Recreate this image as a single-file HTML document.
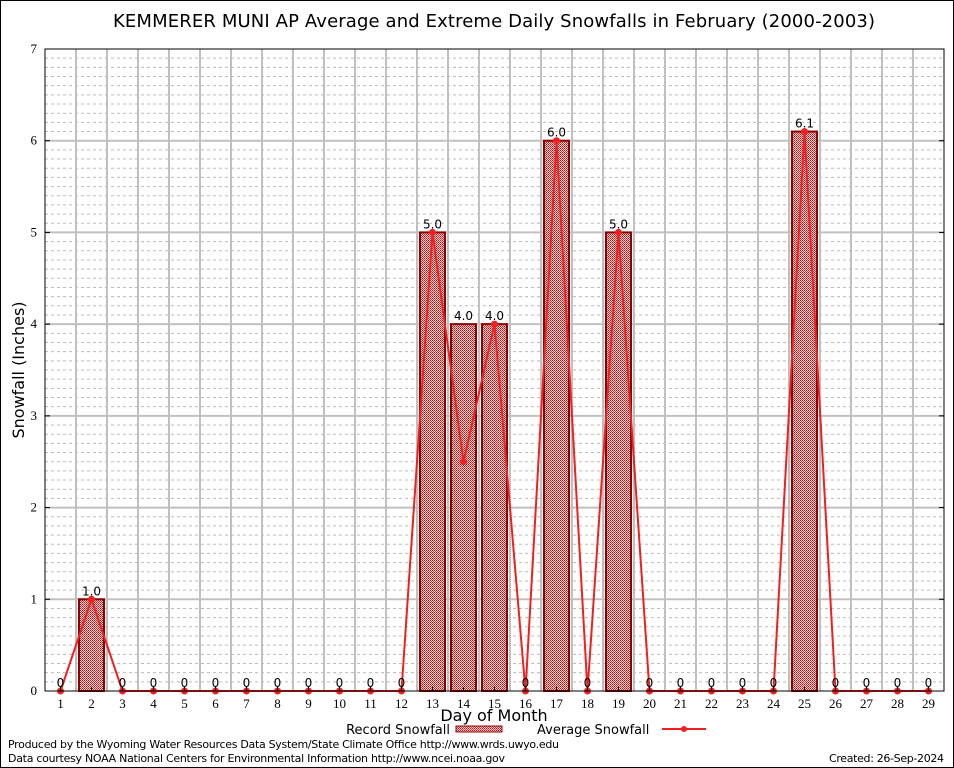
<!DOCTYPE html>
<html><head><meta charset="utf-8"><style>
body{margin:0;background:#fff}
svg{display:block}
text{font-family:"DejaVu Sans","Liberation Sans",sans-serif}
.tick{font-family:"Liberation Serif","DejaVu Serif",serif;font-size:13px}
</style></head><body>
<svg id="c" width="954" height="768" xmlns="http://www.w3.org/2000/svg">
<defs>
<pattern id="hatch" width="2" height="2" patternUnits="userSpaceOnUse">
<rect width="2" height="2" fill="#f2d0d0"/>
<rect width="1" height="1" fill="#b01818"/>
<rect x="1" y="1" width="1" height="1" fill="#c84040"/>
</pattern>
</defs>
<rect x="0.5" y="0.5" width="953" height="767" fill="#fff" stroke="#000"/>
<text x="494" y="27" text-anchor="middle" font-size="18" textLength="762">KEMMERER MUNI AP Average and Extreme Daily Snowfalls in February (2000-2003)</text>
<g id="grid"></g>
<g id="bars"></g>
<g id="line"></g>
<g id="labels"></g>
<g id="axes"></g>
<text x="24" y="370" transform="rotate(-90 24 370)" text-anchor="middle" font-size="16">Snowfall (Inches)</text>
<text x="494" y="721" text-anchor="middle" font-size="16">Day of Month</text>
<g>
<text x="450" y="734" text-anchor="end" font-size="13">Record Snowfall</text>
<rect x="456" y="726" width="46" height="6" fill="url(#hatch)" stroke="#a00000"/>
</g>
<g>
<text x="537" y="734" font-size="13">Average Snowfall</text>
<line x1="662" y1="729" x2="706" y2="729" stroke="#f02020" stroke-width="2"/>
<circle cx="684" cy="729" r="3" fill="#f02020"/>
</g>
<text x="8" y="748" font-size="11" textLength="551">Produced by the Wyoming Water Resources Data System/State Climate Office http://www.wrds.uwyo.edu</text>
<text x="8" y="762" font-size="11" textLength="497">Data courtesy NOAA National Centers for Environmental Information http://www.ncei.noaa.gov</text>
<text x="944" y="762" text-anchor="end" font-size="11" textLength="115">Created: 26-Sep-2024</text>
</svg>
<script>
const days=[1,2,3,4,5,6,7,8,9,10,11,12,13,14,15,16,17,18,19,20,21,22,23,24,25,26,27,28,29];
const recordVals=[0,1.0,0,0,0,0,0,0,0,0,0,0,5.0,4.0,4.0,0,6.0,0,5.0,0,0,0,0,0,6.1,0,0,0,0];
const avgVals=[0,1.0,0,0,0,0,0,0,0,0,0,0,5.0,2.5,4.0,0,6.0,0,5.0,0,0,0,0,0,6.1,0,0,0,0];
const yTicks=[0,1,2,3,4,5,6,7];
const NS="http://www.w3.org/2000/svg";
const L=45,R=944,T=49,B=691,YMAX=7;
const bw=(R-L)/days.length;
const xs=d=>L+(d-0.5)*bw;
const ys=v=>B-v/YMAX*(B-T);
function mk(tag,at,parent){const e=document.createElementNS(NS,tag);for(const k in at)e.setAttribute(k,at[k]);document.getElementById(parent).appendChild(e);return e;}
for(let v=0.1;v<YMAX-0.001;v+=0.1){
  if(Math.abs(v-Math.round(v))<0.01)continue;
  const g=mk('line',{x1:L,x2:R,y1:ys(v),y2:ys(v),stroke:'#bbb','stroke-dasharray':'3,3','stroke-width':1},'grid');
  
  
}
for(let i=1;i<days.length;i++){
  const g=mk('line',{x1:L+i*bw,x2:L+i*bw,y1:T,y2:B,stroke:'#c0c0c0','stroke-width':2},'grid');
  
  
}
yTicks.forEach(v=>{
  if(v>0&&v<YMAX){const g=mk('line',{x1:L,x2:R,y1:ys(v),y2:ys(v),stroke:'#c0c0c0','stroke-width':2},'grid');
  
  }
  const t=mk('text',{x:L-8,y:ys(v)+4,'text-anchor':'end',class:'tick'},'axes');t.textContent=v;
  
  
  mk('line',{x1:L,x2:L+5,y1:ys(v),y2:ys(v),stroke:'#000'},'axes');
  mk('line',{x1:R,x2:R-5,y1:ys(v),y2:ys(v),stroke:'#000'},'axes');
});
const ax=mk('rect',{x:L,y:T,width:R-L,height:B-T,fill:'none',stroke:'#000','stroke-width':1},'axes');


days.forEach((d,i)=>{
  const t=mk('text',{x:xs(d),y:B+17,'text-anchor':'middle',class:'tick'},'axes');t.textContent=d;
  
  
  mk('line',{x1:xs(d),x2:xs(d),y1:B,y2:B-4,stroke:'#000'},'axes');
  const v=recordVals[i];
  if(v>0){
    const r=mk('rect',{x:xs(d)-12.5,y:ys(v),width:25,height:B-ys(v),fill:'url(#hatch)',stroke:'#900000','stroke-width':2},'bars');
    
    
  }
  const lb=mk('text',{x:xs(d),y:ys(v)-4,'text-anchor':'middle','font-size':12},'labels');
  lb.textContent=v>0?v.toFixed(1):'0';
  
  
});
const pl=mk('polyline',{points:days.map((d,i)=>xs(d)+','+ys(avgVals[i])).join(' '),fill:'none',stroke:'#f02020','stroke-width':2},'line');


days.forEach((d,i)=>{
  const c=mk('circle',{cx:xs(d),cy:ys(avgVals[i]),r:3.5,fill:'#f02020'},'line');
  
  
});
</script>
</body></html>
